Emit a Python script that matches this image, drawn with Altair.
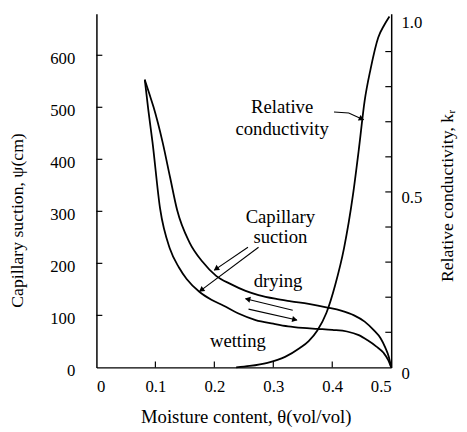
import math
import altair as alt
import pandas as pd

# ---- data ----
drying_x = [0.082, 0.09, 0.097, 0.112, 0.125, 0.137, 0.158, 0.18, 0.203, 0.228, 0.253, 0.275,
            0.303, 0.33, 0.36, 0.392, 0.415, 0.437, 0.455, 0.47, 0.482, 0.49, 0.496, 0.5]
drying_psi = [553, 525, 500, 434, 365, 302, 240, 203, 176, 160, 147, 139,
              132, 127, 122, 115, 109, 100, 88, 72, 56, 38, 20, 0]

wetting_x = [0.082, 0.088, 0.095, 0.108, 0.125, 0.14, 0.153, 0.175, 0.195, 0.215, 0.24, 0.27,
             0.3, 0.325, 0.35, 0.375, 0.4, 0.425, 0.445, 0.46, 0.475, 0.487, 0.495, 0.5]
wetting_psi = [553, 495, 434, 305, 227, 192, 170, 145, 130, 119, 104, 91,
               84, 79, 76, 74, 72, 69, 62, 52, 40, 28, 14, 0]

cond_x = [0.237, 0.26, 0.29, 0.32, 0.345, 0.36, 0.375, 0.39, 0.405, 0.42, 0.435, 0.445,
          0.455, 0.465, 0.478, 0.488, 0.497]
cond_k = [0, 0.004, 0.013, 0.03, 0.055, 0.075, 0.106, 0.155, 0.235, 0.34, 0.49, 0.62,
          0.76, 0.85, 0.94, 0.975, 1.0]

x_label_values = [0, 0.1, 0.2, 0.3, 0.4, 0.5]
left_label_values = [0, 100, 200, 300, 400, 500, 600]
right_label_values = [0, 0.5, 1.0]
bottom_tick_values = [0.1, 0.2, 0.3, 0.4]
left_tick_values = [100, 200, 300, 400, 500, 600]
right_tick_values = [0.1, 0.2, 0.3, 0.4, 0.5, 0.6, 0.7, 0.8, 0.9]

note_text = ["Relative", "conductivity", "Capillary", "suction", "drying", "wetting"]
note_x = [0.315, 0.315, 0.312, 0.312, 0.308, 0.24]
note_psi = [501, 459, 289, 251, 166, 51]

# arrows: (x list, psi list); last point is the tip
arrow_x = [[0.257, 0.2], [0.275, 0.175], [0.333, 0.253], [0.258, 0.34], [0.403, 0.428, 0.453]]
arrow_psi = [[231, 187], [231, 146], [110, 132], [112, 91], [491, 489, 476]]

X_MAX = 0.5
PSI_MAX = 680
K_MAX = 1.008
W, H = 300, 360
FONT = "Liberation Serif"

# ---- frames ----
curves = pd.concat([
    pd.DataFrame({"x": drying_x, "psi": drying_psi, "s": "drying"}),
    pd.DataFrame({"x": wetting_x, "psi": wetting_psi, "s": "wetting"}),
])
cond = pd.DataFrame({"x": cond_x, "k": cond_k})
notes = pd.DataFrame({"x": note_x, "psi": note_psi, "t": note_text})

seg_rows, head_rows = [], []
px_x = W / X_MAX
px_y = H / PSI_MAX
for i, (xs, ys) in enumerate(zip(arrow_x, arrow_psi)):
    for j, (a, b) in enumerate(zip(xs, ys)):
        seg_rows.append({"a": i, "o": j, "x": a, "psi": b})
    dx = (xs[-1] - xs[-2]) * px_x
    dy = -(ys[-1] - ys[-2]) * px_y
    ang = math.degrees(math.atan2(dx, -dy)) % 360
    L = math.hypot(dx, dy)
    back = 3.0
    head_rows.append({
        "x": xs[-1] - dx / L * back / px_x,
        "psi": ys[-1] + dy / L * back / px_y,
        "ang": ang,
    })
segs = pd.DataFrame(seg_rows)
heads = pd.DataFrame(head_rows)


def xs_():
    return alt.Scale(domain=[0, X_MAX], nice=False, zero=False)


def ls_():
    return alt.Scale(domain=[0, PSI_MAX], nice=False)


def rs_():
    return alt.Scale(domain=[0, K_MAX], nice=False)


X_AXIS = dict(
    values=x_label_values, ticks=False, grid=False,
    labelFont=FONT, labelFontSize=17, labelColor="black",
    labelPadding=20, labelBaseline="middle",
    labelExpr="datum.value == 0 ? '0' : format(datum.value, '.1f')",
    title="Moisture content, θ(vol/vol)", titleFont=FONT, titleFontSize=19,
    titleFontWeight="normal", titleColor="black",
    titleX=152, titleY=50, titleAlign="center", titleBaseline="middle",
    domainColor="black", domainWidth=1.5,
)


def X(field="x"):
    return alt.X(f"{field}:Q", scale=xs_(), axis=alt.Axis(**X_AXIS), title=X_AXIS["title"])


l_axis = alt.Axis(
    orient="left", values=left_label_values, ticks=False, grid=False,
    labelFont=FONT, labelFontSize=17, labelColor="black",
    labelPadding=22, labelOffset=3,
    title="Capillary suction, ψ(cm)", titleFont=FONT, titleFontSize=18,
    titleFontWeight="normal", titleColor="black",
    titleX=-80, titleY=210, titleAngle=270, titleAlign="center", titleBaseline="middle",
    domainColor="black", domainWidth=1.5,
)
r_axis = alt.Axis(
    orient="right", values=right_label_values, ticks=False, grid=False,
    labelFont=FONT, labelFontSize=17, labelColor="black",
    labelPadding=10, labelOffset=6,
    labelExpr="datum.value == 0 ? '0' : format(datum.value, '.1f')",
    title="Relative conductivity, kᵣ", titleFont=FONT, titleFontSize=18,
    titleFontWeight="normal", titleColor="black",
    titleX=57, titleY=185, titleAngle=270, titleAlign="center", titleBaseline="middle",
    domainColor="black", domainWidth=1.5,
)

lines = alt.Chart(curves).mark_line(color="black", strokeWidth=1.8, interpolate="monotone").encode(
    x=X(),
    y=alt.Y("psi:Q", scale=ls_(), axis=l_axis),
    detail="s:N",
)
cond_line = alt.Chart(cond).mark_line(color="black", strokeWidth=1.8, interpolate="monotone").encode(
    x=X(),
    y=alt.Y("k:Q", scale=rs_(), axis=r_axis),
)
lticks = alt.Chart(pd.DataFrame({"psi": left_tick_values})).mark_rule(color="black", strokeWidth=1.2).encode(
    y=alt.Y("psi:Q", scale=ls_(), axis=None), x=alt.value(0), x2=alt.value(6)
)
rticks = alt.Chart(pd.DataFrame({"k": right_tick_values})).mark_rule(color="black", strokeWidth=1.2).encode(
    y=alt.Y("k:Q", scale=rs_(), axis=None), x=alt.value(W), x2=alt.value(W - 6)
)
bticks = alt.Chart(pd.DataFrame({"x": bottom_tick_values})).mark_rule(color="black", strokeWidth=1.2).encode(
    x=X(), y=alt.value(H), y2=alt.value(H - 6)
)
arrow_lines = alt.Chart(segs).mark_line(color="black", strokeWidth=1.1).encode(
    x=X(), y=alt.Y("psi:Q", scale=ls_(), axis=None),
    detail="a:N", order="o:Q"
)
arrow_heads = alt.Chart(heads).mark_point(shape="triangle", filled=True, color="black", opacity=1, size=40).encode(
    x=X(), y=alt.Y("psi:Q", scale=ls_(), axis=None),
    angle=alt.Angle("ang:Q", scale=None)
)
texts = alt.Chart(notes).mark_text(font=FONT, fontSize=19, color="black", baseline="middle").encode(
    x=X(), y=alt.Y("psi:Q", scale=ls_(), axis=None), text="t:N"
)

chart = alt.layer(
    lines, cond_line, lticks, rticks, bticks, arrow_lines, arrow_heads, texts
).resolve_scale(y="independent").properties(
    width=W, height=H,
    autosize=alt.AutoSizeParams(type="none"),
    padding={"left": 90, "top": 2, "right": 69, "bottom": 62},
    background="white",
).configure_view(stroke=None)

chart.save("out.html", embed_options={"renderer": "svg", "actions": False})
